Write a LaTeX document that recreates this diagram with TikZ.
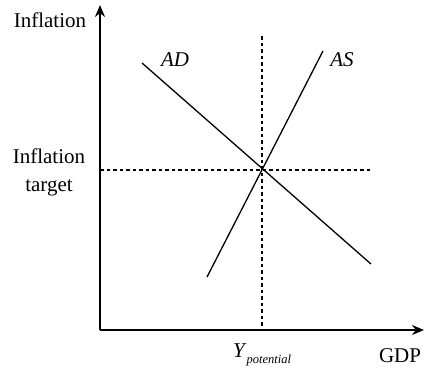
\documentclass[tikz,border=0pt]{standalone}
\usepackage{fontspec}
\setmainfont{Liberation Serif}
\usetikzlibrary{arrows.meta}
\begin{document}
\begin{tikzpicture}[x=1pt,y=-1pt,
  axis/.style={line width=1.5pt,-{Stealth[length=12pt,width=10pt]}},
  curve/.style={line width=1.3pt},
  guide/.style={line width=1.1pt,dash pattern=on 3.5pt off 3pt},
  lbl/.style={inner sep=0pt,anchor=base,font=\fontsize{21}{28}\selectfont}]
\useasboundingbox (0,0) rectangle (425,367);
\coordinate (O) at (100,330);
\coordinate (ytop) at (100,5);
\coordinate (xend) at (424,330);
\draw[axis] (O) -- (ytop);
\draw[axis] (O) -- (xend);
\coordinate (vtop) at (262,36);
\coordinate (vbot) at (262,330);
\coordinate (hleft) at (100,170);
\coordinate (hright) at (370,170);
\draw[guide] (vtop) -- (vbot);
\draw[guide] (hleft) -- (hright);
\coordinate (ad1) at (142,63);
\coordinate (ad2) at (371,264);
\coordinate (as1) at (207,277);
\coordinate (as2) at (323,51);
\draw[curve] (ad1) -- (ad2);
\draw[curve] (as1) -- (as2);
\node[lbl] (yl) at (50,27) {Inflation};
\node[lbl,align=center,anchor=base] (it) at (49,191) {Inflation\\target};
\node[lbl] (adl) at (175,66) {\textit{AD}};
\node[lbl] (asl) at (342,66) {\textit{AS}};
\node[lbl] (yp) at (262,357) {\textit{Y}\raisebox{-6pt}{\fontsize{12.5}{14}\selectfont\textit{potential}}};
\node[lbl] (gdp) at (400,362) {GDP};
\end{tikzpicture}
\end{document}
